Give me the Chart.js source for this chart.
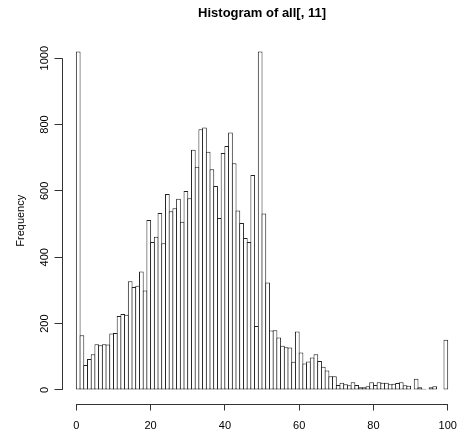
<!DOCTYPE html>
<html>
<head>
<meta charset="utf-8">
<script src="https://cdn.jsdelivr.net/npm/chart.js@4"></script>
<style>
  html, body { margin: 0; padding: 0; background: #fff; overflow: hidden; }
</style>
</head>
<body>
<canvas id="grafico"></canvas>
<script>
// histogram of all[, 11] - counts per unit bin, 0..100
const counts = [
  1020, 165, 75, 93, 108, 138, 135, 138, 137, 170,
  172, 223, 229, 227, 328, 310, 314, 357, 300, 512,
  446, 462, 533, 442, 591, 539, 548, 576, 507, 600,
  578, 724, 673, 786, 791, 718, 665, 615, 518, 714,
  735, 776, 683, 541, 503, 458, 446, 648, 193, 1020,
  532, 324, 179, 180, 158, 133, 129, 128, 85, 176,
  113, 80, 86, 98, 108, 87, 70, 59, 41, 41,
  15, 22, 17, 14, 23, 15, 8, 8, 11, 23,
  15, 23, 22, 22, 17, 19, 21, 23, 14, 13,
  2, 34, 8, 4, 1, 8, 11, 0, 0, 151
];
const binStart = 0;
const binWidth = 1;
const xTicks = [0, 20, 40, 60, 80, 100];
const yTicks = [0, 200, 400, 600, 800, 1000];

const bins = counts.map((c, i) => ({ x: binStart + (i + 0.5) * binWidth, y: c }));

const canvas = document.getElementById('grafico');
canvas.width = 466;
canvas.height = 435;
canvas.style.width = '466px';
canvas.style.height = '435px';

Chart.defaults.font.family = '"Liberation Sans", Arial, sans-serif';
Chart.defaults.color = '#000';

// R style axes: line only across the tick range
const rAxes = {
    id: 'rAxes',
    afterDraw(chart) {
        const { ctx, chartArea, scales } = chart;
        ctx.save();
        ctx.strokeStyle = '#333';
        ctx.lineWidth = 1;
        ctx.beginPath();
        const yb = Math.round(chartArea.bottom) + 0.5;
        ctx.moveTo(scales.x.getPixelForValue(xTicks[0]), yb);
        ctx.lineTo(scales.x.getPixelForValue(xTicks[xTicks.length - 1]), yb);
        const xl = Math.round(chartArea.left) + 0.5;
        ctx.moveTo(xl, scales.y.getPixelForValue(yTicks[0]));
        ctx.lineTo(xl, scales.y.getPixelForValue(yTicks[yTicks.length - 1]));
        ctx.stroke();
        ctx.restore();
    }
};

new Chart(canvas, {
    type: 'bar',
    data: {
        datasets: [{
            data: bins,
            backgroundColor: '#fff',
            borderColor: '#222',
            borderWidth: 1,
            borderSkipped: false,
            inflateAmount: 0,
            // a bit wider than the bin so neighbour outlines overlap into one line
            barPercentage: 1.267,
            categoryPercentage: 1
        }]
    },
    options: {
        responsive: false,
        animation: false,
        layout: { padding: 0 },
        plugins: {
            legend: { display: false },
            tooltip: { enabled: false },
            title: {
                display: true,
                text: 'Histogram of all[, 11]',
                fullSize: false,
                font: { size: 13, weight: 'bold' },
                padding: { top: 5.5, bottom: 16.9 }
            }
        },
        scales: {
            x: {
                type: 'linear',
                min: -4,
                max: 104,
                offset: false,
                afterBuildTicks: s => { s.ticks = xTicks.map(v => ({ value: v })); },
                afterFit: s => { s.height = 31.5; },
                ticks: { font: { size: 11 }, padding: 9, maxRotation: 0, callback: v => String(v) },
                grid: { offset: false, drawOnChartArea: false, drawTicks: true, tickLength: 7, color: '#333' },
                border: { display: false }
            },
            y: {
                min: -40.8,
                max: 1060.8,
                afterBuildTicks: s => { s.ticks = yTicks.map(v => ({ value: v })); },
                afterFit: s => { s.width = 61.5; },
                ticks: { font: { size: 11 }, padding: -3, minRotation: 90, maxRotation: 90, crossAlign: 'center', callback: v => String(v) },
                grid: { drawOnChartArea: false, drawTicks: true, tickLength: 7, color: '#333' },
                border: { display: false },
                title: { display: true, text: 'Frequency', font: { size: 11 }, padding: { top: 14, bottom: 0 } }
            }
        }
    },
    plugins: [rAxes]
});
</script>
</body>
</html>
